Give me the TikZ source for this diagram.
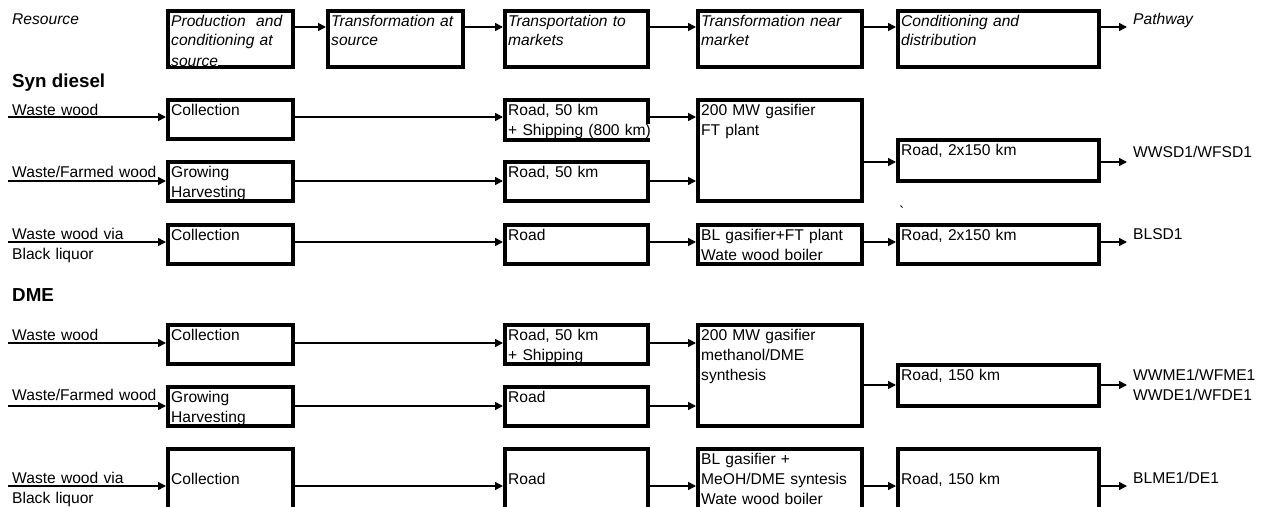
\documentclass[tikz,border=0pt]{standalone}
\usepackage{fontspec}
\setmainfont{Liberation Sans}
\usetikzlibrary{arrows.meta}

\tikzset{
  stage/.style={draw, line width=4pt, inner sep=0pt, anchor=north west},
  txt/.style={inner sep=0pt, anchor=base west, text width=220pt, align=left,
              font=\fontsize{15.6}{20}\selectfont},
  head/.style={txt, font=\fontsize{15.6}{20}\selectfont\itshape},
  fuel/.style={inner sep=0pt, anchor=base west, font=\fontsize{18.8}{22}\selectfont\bfseries},
  flow/.style={line width=1.5pt, -{Triangle[length=8pt,width=8pt]}},
}

% stage box: name, x, y (top left), width, height, text
\newcommand{\stagebox}[6]{%
  \node[stage, minimum width=#4pt, minimum height=#5pt] (#1) at (#2,#3) {};
  \node[txt] (#1-t) at ([shift={(5,17)}]#1.north west) {#6};}
% text running over a border
\newcommand{\onwhite}[1]{{\setlength{\fboxsep}{0pt}\colorbox{white}{#1}}}

\begin{document}
\begin{tikzpicture}[x=1pt, y=-1pt]
  \useasboundingbox (0,0) rectangle (1269,506);
  \clip (0,0) rectangle (1269,506);

  % chain headings
  \stagebox{hd1}{166}{9}{125}{56}{\itshape Production\ \ and\\conditioning at\\\onwhite{source}}
  \stagebox{hd2}{326}{9}{135}{56}{\itshape Transformation at\\source}
  \stagebox{hd3}{503}{9}{143}{56}{\itshape Transportation to\\markets}
  \stagebox{hd4}{696}{9}{164}{56}{\itshape Transformation near\\market}
  \stagebox{hd5}{896}{9}{201}{56}{\itshape Conditioning and\\distribution}
  \node[head] (res) at (12,24) {Resource};
  \node[head] (path) at (1133,24) {Pathway};
  \coordinate (h0) at (0,27);
  \coordinate (h6) at (1127,27);
  \foreach \a/\b in {hd1/hd2,hd2/hd3,hd3/hd4,hd4/hd5}
    \draw[flow] (\a.east |- h0) -- (\b.west |- h0);
  \draw[flow] (hd5.east |- h6) -- (h6);

  % Syn diesel
  \node[fuel] (syn) at (12,87) {Syn diesel};
  \stagebox{sd-coll1}{166}{98}{125}{39}{Collection}
  \stagebox{sd-road1}{503}{98}{143}{40}{Road, 50 km\\\onwhite{+ Shipping (800 km)}}
  \stagebox{sd-gas}{696}{98}{164}{101}{200 MW gasifier\\FT plant}
  \stagebox{sd-dist1}{896}{138}{201}{41}{Road, 2x150 km}
  \stagebox{sd-grow}{166}{160}{125}{39}{Growing\\Harvesting}
  \stagebox{sd-road2}{503}{160}{143}{39}{Road, 50 km}
  \stagebox{sd-coll3}{166}{223}{125}{39}{Collection}
  \stagebox{sd-road3}{503}{223}{143}{39}{Road}
  \stagebox{sd-blgas}{696}{223}{164}{39}{BL gasifier+FT plant\\Wate wood boiler}
  \stagebox{sd-dist2}{896}{223}{201}{39}{Road, 2x150 km}

  \node[txt] (sd-l1) at (12,115) {Waste wood};
  \node[txt] (sd-l2) at (12,177) {Waste/Farmed wood};
  \node[txt] (sd-l3) at (12,239) {Waste wood via\\Black liquor};
  \coordinate (sd-r1) at (8,117);
  \coordinate (sd-r2) at (8,181);
  \coordinate (sd-r3) at (8,242);
  \coordinate (sd-p1) at (1127,162);
  \coordinate (sd-p3) at (1127,242);

  \draw[flow] (sd-r1) -- (sd-coll1.west |- sd-r1);
  \draw[flow] (sd-coll1.east |- sd-r1) -- (sd-road1.west |- sd-r1);
  \draw[flow] (sd-road1.east |- sd-r1) -- (sd-gas.west |- sd-r1);
  \draw[flow] (sd-r2) -- (sd-grow.west |- sd-r2);
  \draw[flow] (sd-grow.east |- sd-r2) -- (sd-road2.west |- sd-r2);
  \draw[flow] (sd-road2.east |- sd-r2) -- (sd-gas.west |- sd-r2);
  \draw[flow] (sd-gas.east |- sd-p1) -- (sd-dist1.west |- sd-p1);
  \draw[flow] (sd-dist1.east |- sd-p1) -- (sd-p1);
  \draw[flow] (sd-r3) -- (sd-coll3.west |- sd-r3);
  \draw[flow] (sd-coll3.east |- sd-r3) -- (sd-road3.west |- sd-r3);
  \draw[flow] (sd-road3.east |- sd-r3) -- (sd-blgas.west |- sd-r3);
  \draw[flow] (sd-blgas.east |- sd-r3) -- (sd-dist2.west |- sd-r3);
  \draw[flow] (sd-dist2.east |- sd-p3) -- (sd-p3);
  \node[txt] (sd-o1) at (1133,157) {WWSD1/WFSD1};
  \node[txt] (sd-o3) at (1133,239) {BLSD1};
  \node[txt] (tick) at (899,217) {\textasciigrave};

  % DME
  \node[fuel] (dme) at (12,301) {DME};
  \stagebox{dm-coll1}{166}{323}{125}{39}{Collection}
  \stagebox{dm-road1}{503}{323}{143}{39}{Road, 50 km\\+ Shipping}
  \stagebox{dm-gas}{696}{323}{164}{101}{200 MW gasifier\\methanol/DME\\synthesis}
  \stagebox{dm-dist1}{896}{363}{201}{41}{Road, 150 km}
  \stagebox{dm-grow}{166}{385}{125}{39}{Growing\\Harvesting}
  \stagebox{dm-road2}{503}{385}{143}{39}{Road}
  \stagebox{dm-coll3}{166}{447}{125}{78}{\mbox{}\\Collection}
  \stagebox{dm-road3}{503}{447}{143}{78}{\mbox{}\\Road}
  \stagebox{dm-blgas}{696}{447}{164}{78}{BL gasifier +\\MeOH/DME syntesis\\Wate wood boiler}
  \stagebox{dm-dist2}{896}{447}{201}{78}{\mbox{}\\Road, 150 km}

  \node[txt] (dm-l1) at (12,340) {Waste wood};
  \node[txt] (dm-l2) at (12,400) {Waste/Farmed wood};
  \node[txt] (dm-l3) at (12,483) {Waste wood via\\Black liquor};
  \coordinate (dm-r1) at (8,343);
  \coordinate (dm-r2) at (8,406);
  \coordinate (dm-r3) at (8,486);
  \coordinate (dm-p1) at (1127,385);
  \coordinate (dm-p3) at (1127,486);

  \draw[flow] (dm-r1) -- (dm-coll1.west |- dm-r1);
  \draw[flow] (dm-coll1.east |- dm-r1) -- (dm-road1.west |- dm-r1);
  \draw[flow] (dm-road1.east |- dm-r1) -- (dm-gas.west |- dm-r1);
  \draw[flow] (dm-r2) -- (dm-grow.west |- dm-r2);
  \draw[flow] (dm-grow.east |- dm-r2) -- (dm-road2.west |- dm-r2);
  \draw[flow] (dm-road2.east |- dm-r2) -- (dm-gas.west |- dm-r2);
  \draw[flow] (dm-gas.east |- dm-p1) -- (dm-dist1.west |- dm-p1);
  \draw[flow] (dm-dist1.east |- dm-p1) -- (dm-p1);
  \draw[flow] (dm-r3) -- (dm-coll3.west |- dm-r3);
  \draw[flow] (dm-coll3.east |- dm-r3) -- (dm-road3.west |- dm-r3);
  \draw[flow] (dm-road3.east |- dm-r3) -- (dm-blgas.west |- dm-r3);
  \draw[flow] (dm-blgas.east |- dm-r3) -- (dm-dist2.west |- dm-r3);
  \draw[flow] (dm-dist2.east |- dm-p3) -- (dm-p3);
  \node[txt] (dm-o1) at (1133,380) {WWME1/WFME1\\WWDE1/WFDE1};
  \node[txt] (dm-o3) at (1133,483) {BLME1/DE1};
\end{tikzpicture}
\end{document}
